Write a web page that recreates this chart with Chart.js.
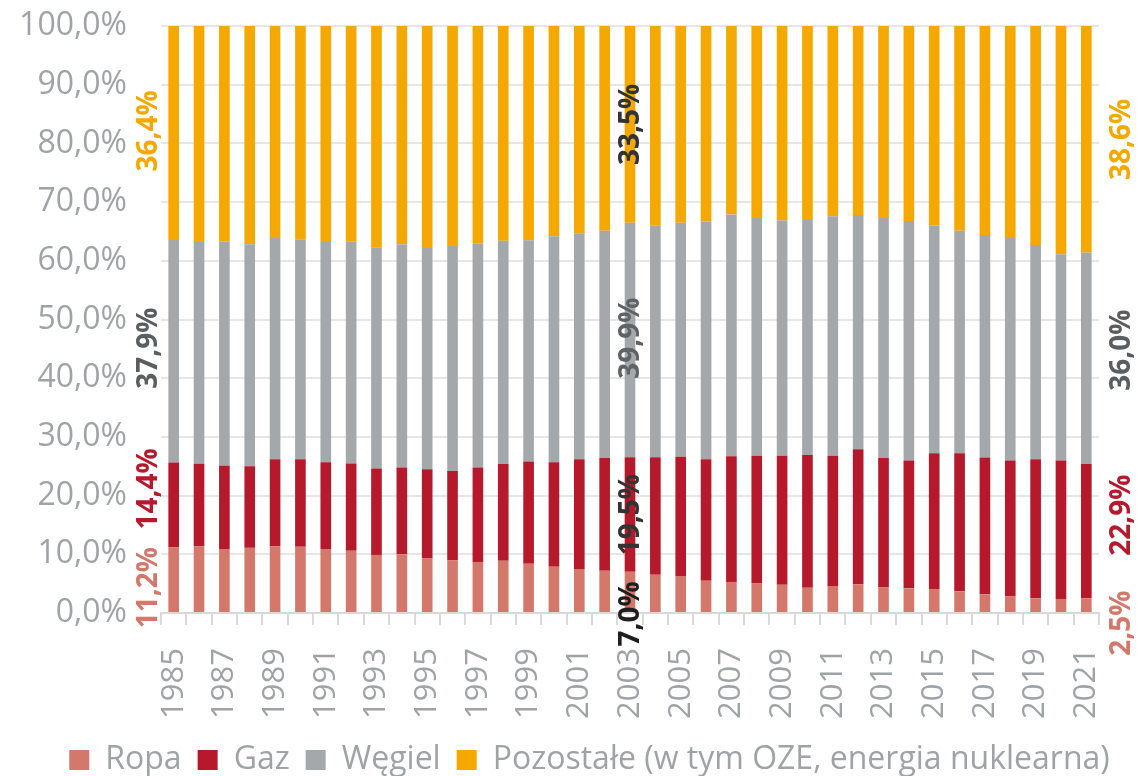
<!DOCTYPE html>
<html>
<head>
<meta charset="utf-8">
<script src="https://cdn.jsdelivr.net/npm/chart.js@4/dist/chart.umd.min.js"></script>
<style>
  html, body { margin: 0; padding: 0; background: #ffffff; }
  #wrap { width: 1137px; height: 776px; position: relative; }
</style>
</head>
<body>
<div id="wrap"><canvas id="c" width="1137" height="776"></canvas></div>
<script>
const years = ['1985','1986','1987','1988','1989','1990','1991','1992','1993','1994',
               '1995','1996','1997','1998','1999','2000','2001','2002','2003','2004',
               '2005','2006','2007','2008','2009','2010','2011','2012','2013','2014',
               '2015','2016','2017','2018','2019','2020','2021'];
const ropa = [11.2, 11.4, 10.9, 11.1, 11.4, 11.3, 10.9, 10.6, 9.9, 10.0,
              9.3, 9.0, 8.7, 8.9, 8.4, 7.9, 7.5, 7.2, 7.0, 6.5,
              6.3, 5.5, 5.3, 5.1, 4.8, 4.3, 4.6, 4.9, 4.4, 4.2,
              4.1, 3.7, 3.2, 2.8, 2.5, 2.4, 2.5];
const gaz = [14.4, 14.0, 14.2, 13.9, 14.8, 14.9, 14.8, 14.9, 14.7, 14.8,
             15.2, 15.2, 16.1, 16.5, 17.4, 17.8, 18.7, 19.2, 19.5, 20.0,
             20.3, 20.7, 21.4, 21.7, 22.0, 22.6, 22.2, 23.0, 22.0, 21.8,
             23.1, 23.5, 23.3, 23.2, 23.7, 23.6, 22.9];
const wegiel = [37.9, 37.8, 38.2, 37.8, 37.7, 37.4, 37.5, 37.8, 37.7, 38.0,
                37.7, 38.4, 38.2, 38.0, 37.7, 38.5, 38.5, 38.7, 39.9, 39.4,
                39.9, 40.5, 41.2, 40.5, 40.1, 40.0, 40.8, 39.9, 40.9, 40.8,
                38.8, 37.9, 37.9, 37.9, 36.5, 35.1, 36.0];
const pozostale = [36.4, 36.8, 36.7, 37.2, 36.1, 36.4, 36.8, 36.8, 37.7, 37.2,
                   37.8, 37.5, 37.0, 36.6, 36.5, 35.8, 35.3, 34.9, 33.5, 34.0,
                   33.5, 33.3, 32.1, 32.7, 33.1, 33.0, 32.4, 32.2, 32.7, 33.2,
                   34.0, 34.9, 35.6, 36.1, 37.3, 38.9, 38.6];
const seriesNames = ['Ropa', 'Gaz', 'Węgiel', 'Pozostałe (w tym OZE, energia nuklearna)'];
const labelledYears = ['1985', '2003', '2021'];

const raw = [ropa, gaz, wegiel, pozostale];
const colors = ['#D4786C', '#B5192B', '#A5A8AB', '#F5A800'];
const FONT = "'Open Sans', 'DejaVu Sans', sans-serif";
const TICK_COLOR = '#A0A3A6';

// 100% stacking (normalise each year to its total)
const totals = years.map((_, i) => raw.reduce((s, arr) => s + arr[i], 0));
const norm = raw.map(arr => arr.map((v, i) => v / totals[i] * 100));

const fmt = v => v.toFixed(1).replace('.', ',') + '%';

// label styling per highlighted year (position offsets in px, colours)
const labelStyle = {
  '1985': { dx: -26, dy: [8, -16, -3, -2], color: ['#D4786C', '#B5192B', '#5A5E61', '#F5A800'] },
  '2003': { dx: 0,   dy: [22, 0, -2, 0],   color: ['#1E1E1E', '#333333', '#5F6366', '#333333'] },
  '2021': { dx: 35,  dy: [18, -16, -8, 0], color: ['#D4786C', '#B5192B', '#5A5E61', '#F5A800'] }
};

const valueLabels = {
  id: 'valueLabels',
  afterLayout(chart) {
    const lg = chart.legend;
    if (lg) {
      const h = lg.bottom - lg.top;
      lg.left += 40; lg.right += 40;
      lg.top = 728; lg.bottom = 728 + h;
    }
  },
  afterDatasetsDraw(chart) {
    const ctx = chart.ctx;
    const xs = chart.scales.x;
    ctx.save();
    ctx.font = "bold 28px " + FONT;
    ctx.textAlign = 'center';
    ctx.textBaseline = 'middle';
    labelledYears.forEach(yr => {
      const idx = years.indexOf(yr);
      const st = labelStyle[yr];
      raw.forEach((arr, d) => {
        const el = chart.getDatasetMeta(d).data[idx];
        const cx = xs.getPixelForValue(idx) + st.dx;
        const cy = (el.y + el.base) / 2 + st.dy[d];
        ctx.save();
        ctx.translate(cx, cy);
        ctx.rotate(-Math.PI / 2);
        ctx.fillStyle = st.color[d];
        ctx.fillText(fmt(arr[idx]), 0, 1);
        ctx.restore();
      });
    });
    ctx.restore();
  }
};

new Chart(document.getElementById('c'), {
  type: 'bar',
  data: {
    labels: years,
    datasets: norm.map((arr, d) => ({
      label: seriesNames[d],
      data: arr,
      backgroundColor: colors[d],
      borderWidth: 0,
      barPercentage: 0.42,
      categoryPercentage: 1.0
    }))
  },
  options: {
    responsive: false,
    animation: false,
    devicePixelRatio: 1,
    layout: { padding: { top: 26, right: 38, bottom: 0, left: 0 } },
    plugins: {
      legend: {
        position: 'bottom',
        labels: {
          boxWidth: 20, boxHeight: 20, padding: 16,
          color: TICK_COLOR,
          font: { family: FONT, size: 32 }
        }
      },
      tooltip: { enabled: false }
    },
    scales: {
      x: {
        stacked: true,
        grid: { drawOnChartArea: false, drawTicks: true, tickLength: 12, color: '#D9D9D9', lineWidth: 2, offset: true },
        border: { color: '#D9D9D9', width: 2 },
        ticks: {
          autoSkip: false, minRotation: 90, maxRotation: 90, padding: 23,
          color: TICK_COLOR, font: { family: FONT, size: 31 },
          callback: (v, i) => (i % 2 === 0 ? years[i] : '')
        },
        afterFit: s => { s.height = 105; s.paddingLeft = 0; s.paddingRight = 0; }
      },
      y: {
        stacked: true, min: 0, max: 100,
        grid: { color: '#E6E6E6', lineWidth: 2, drawTicks: false },
        border: { display: false },
        ticks: {
          stepSize: 10, padding: 34,
          color: TICK_COLOR, font: { family: FONT, size: 32 },
          callback: v => fmt(v)
        },
        afterFit: s => { s.width = 161; s.paddingTop = 0; s.paddingBottom = 0; }
      }
    }
  },
  plugins: [valueLabels]
});
</script>
</body>
</html>
